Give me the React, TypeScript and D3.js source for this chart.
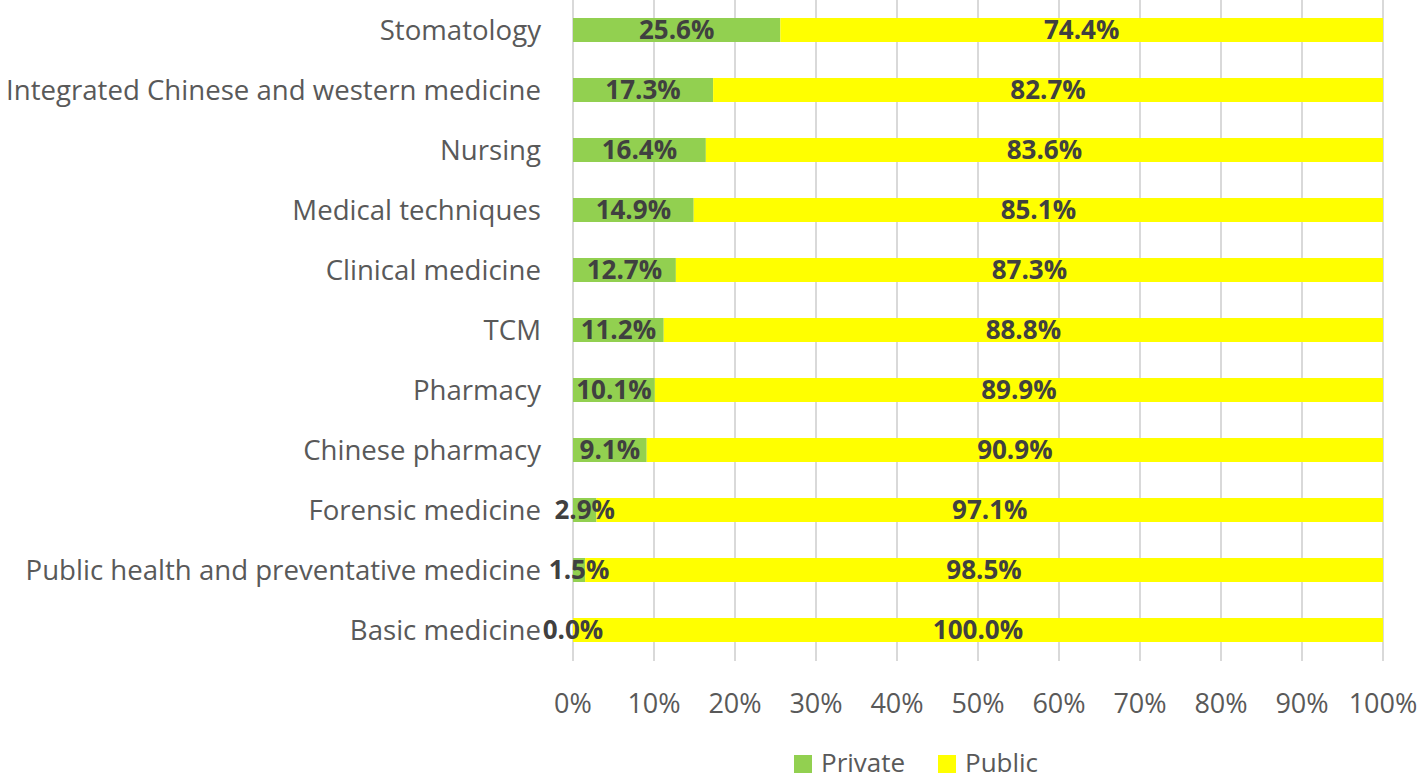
import React from "react";
import * as d3 from "d3";

const categories = [
  "Stomatology",
  "Integrated Chinese and western medicine",
  "Nursing",
  "Medical techniques",
  "Clinical medicine",
  "TCM",
  "Pharmacy",
  "Chinese pharmacy",
  "Forensic medicine",
  "Public health and preventative medicine",
  "Basic medicine",
];
const privateValues = [25.6, 17.3, 16.4, 14.9, 12.7, 11.2, 10.1, 9.1, 2.9, 1.5, 0.0];
const publicValues = [74.4, 82.7, 83.6, 85.1, 87.3, 88.8, 89.9, 90.9, 97.1, 98.5, 100.0];
const tickValues = [0, 10, 20, 30, 40, 50, 60, 70, 80, 90, 100];
const seriesNames = ["Private", "Public"];
const seriesColors = ["#92D050", "#FFFF00"];

const W = 1418;
const H = 781;
const FONT = "'Open Sans', 'Noto Sans', sans-serif";

export default function App() {
  const x = d3.scaleLinear().domain([0, 100]).range([573, 1383]);
  const y = d3.scaleBand().domain(categories).range([0, 660]).paddingInner(0.6).paddingOuter(0.3);
  const bh = y.bandwidth();
  const fmt = (v: number) => v.toFixed(1) + "%";

  return (
    <svg
      width={W}
      height={H}
      style={{ position: "absolute", left: 0, top: 0, background: "#fff" }}
      fontFamily={FONT}
    >
      {tickValues.map((t) => (
        <line key={"g" + t} x1={x(t)} x2={x(t)} y1={0} y2={661} stroke="#d9d9d9" strokeWidth={2} />
      ))}
      {categories.map((c, i) => {
        const yc = (y(c) as number) + bh / 2;
        const p = privateValues[i];
        const q = publicValues[i];
        return (
          <g key={c}>
            <rect x={x(0)} y={y(c)} width={x(p) - x(0)} height={bh} fill={seriesColors[0]} />
            <rect x={x(p)} y={y(c)} width={x(p + q) - x(p)} height={bh} fill={seriesColors[1]} />
            <text x={541} y={yc} dy="0.35em" textAnchor="end" fontSize={27.6} fill="#595959">
              {c}
            </text>
            <text x={(x(0) + x(p)) / 2} y={yc} dy="0.36em" textAnchor="middle" fontSize={26} fontWeight="bold" fill="#404040">
              {fmt(p)}
            </text>
            <text x={(x(p) + x(p + q)) / 2} y={yc} dy="0.36em" textAnchor="middle" fontSize={26} fontWeight="bold" fill="#404040">
              {fmt(q)}
            </text>
          </g>
        );
      })}
      {tickValues.map((t) => (
        <text key={"t" + t} x={x(t)} y={713} textAnchor="middle" fontSize={27} fill="#595959">
          {t + "%"}
        </text>
      ))}
      <g>
        <rect x={794} y={755} width={18} height={18} fill={seriesColors[0]} />
        <text x={821} y={772} fontSize={26} fill="#595959">{seriesNames[0]}</text>
        <rect x={938} y={755} width={18} height={18} fill={seriesColors[1]} />
        <text x={965} y={772} fontSize={26} fill="#595959">{seriesNames[1]}</text>
      </g>
    </svg>
  );
}
